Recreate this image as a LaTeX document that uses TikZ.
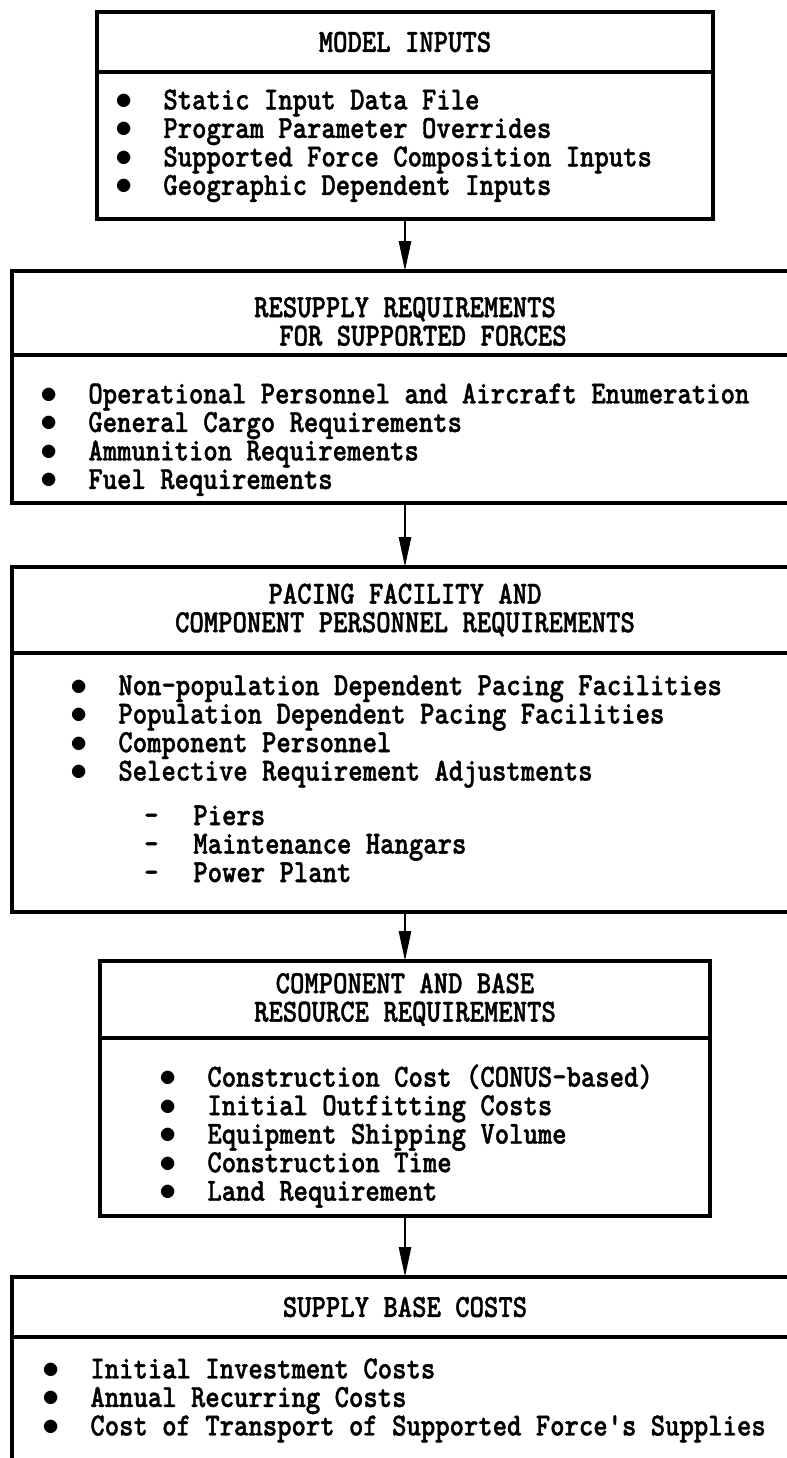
\documentclass[tikz,border=0pt]{standalone}
\usepackage{fontspec}
\usetikzlibrary{positioning,arrows.meta}
% typewriter face, narrowed so the caps stand tall
\newfontfamily\tw{lmmonolt10-bold}[Extension=.otf,FakeStretch=0.85,FakeBold=1.2]
\newcommand{\twsize}{\tw\fontsize{16.1pt}{14.25pt}\selectfont}
\newcommand{\blt}{\llap{\makebox[0pt]{$\bullet$}\hspace{19.5pt}}}
\newcommand{\dsh}{\llap{\makebox[0pt]{-}\hspace{21pt}}}

\begin{document}
\begin{tikzpicture}[
  x=0.5pt, y=-0.5pt,
  frm/.style={draw, line width=1.7pt, inner sep=0pt, outer sep=0pt},
  hdr/.style={frm, align=center, font=\twsize},
  list/.style={inner sep=0pt, align=left, font=\twsize},
  arr/.style={-{Triangle[length=15pt,width=6pt]}, line width=1.4pt}
]
  \useasboundingbox (0,0) rectangle (787,1458);
  \clip (0,0) rectangle (787,1458);

  % model inputs
  \node[hdr, minimum width=308pt, minimum height=30pt, anchor=north] (inHead) at (405,12)
    {MODEL INPUTS};
  \node[frm, minimum width=308pt, minimum height=73.5pt, below=0pt of inHead] (inBody) {};
  \node[list, below right=8.5pt and 33pt of inBody.north west] (inList)
    {\blt Static Input Data File\\
     \blt Program Parameter Overrides\\
     \blt Supported Force Composition Inputs\\
     \blt Geographic Dependent Inputs};

  % resupply requirements (title sits a little low in its strip)
  \node[hdr, minimum width=393pt, minimum height=42pt, anchor=north] (rsHead) at (405,271)
    {\rule{0pt}{18.5pt}RESUPPLY REQUIREMENTS\\\hspace*{18pt}FOR SUPPORTED FORCES};
  \node[frm, minimum width=393pt, minimum height=74pt, below=0pt of rsHead] (rsBody) {};
  \node[list, below right=14pt and 38pt of rsBody.north west] (rsList)
    {\blt Operational Personnel and Aircraft Enumeration\\
     \blt General Cargo Requirements\\
     \blt Ammunition Requirements\\
     \blt Fuel Requirements};

  % pacing facility / component personnel
  \node[hdr, minimum width=393pt, minimum height=43pt, anchor=north] (pcHead) at (405,567)
    {PACING FACILITY AND\\COMPONENT PERSONNEL REQUIREMENTS};
  \node[frm, minimum width=393pt, minimum height=129.5pt, below=0pt of pcHead] (pcBody) {};
  \node[list, below right=11pt and 53pt of pcBody.north west] (pcList)
    {\blt Non-population Dependent Pacing Facilities\\
     \blt Population Dependent Pacing Facilities\\
     \blt Component Personnel\\
     \blt Selective Requirement Adjustments\\[8pt]
     \hspace*{37.5pt}\dsh Piers\\
     \hspace*{37.5pt}\dsh Maintenance Hangars\\
     \hspace*{37.5pt}\dsh Power Plant};

  % component and base resources
  \node[hdr, minimum width=305pt, minimum height=38.5pt, anchor=north] (rbHead) at (405,961)
    {COMPONENT AND BASE\\RESOURCE REQUIREMENTS};
  \node[frm, minimum width=305pt, minimum height=89pt, below=0pt of rbHead] (rbBody) {};
  \node[list, below right=13pt and 53.5pt of rbBody.north west] (rbList)
    {\blt Construction Cost (CONUS-based)\\
     \blt Initial Outfitting Costs\\
     \blt Equipment Shipping Volume\\
     \blt Construction Time\\
     \blt Land Requirement};

  % supply base costs (runs off the page)
  \node[hdr, minimum width=393pt, minimum height=30pt, anchor=north] (scHead) at (405,1277)
    {SUPPLY BASE COSTS};
  \node[frm, minimum width=393pt, minimum height=150pt, below=0pt of scHead] (scBody) {};
  \node[list, below right=10.5pt and 39pt of scBody.north west] (scList)
    {\blt Initial Investment Costs\\
     \blt Annual Recurring Costs\\
     \blt Cost of Transport of Supported Force's Supplies};

  \draw[arr] (inBody.south) -- (rsHead.north);
  \draw[arr] (rsBody.south) -- (pcHead.north);
  \draw[arr] (pcBody.south) -- (rbHead.north);
  \draw[arr] (rbBody.south) -- (scHead.north);
\end{tikzpicture}
\end{document}
